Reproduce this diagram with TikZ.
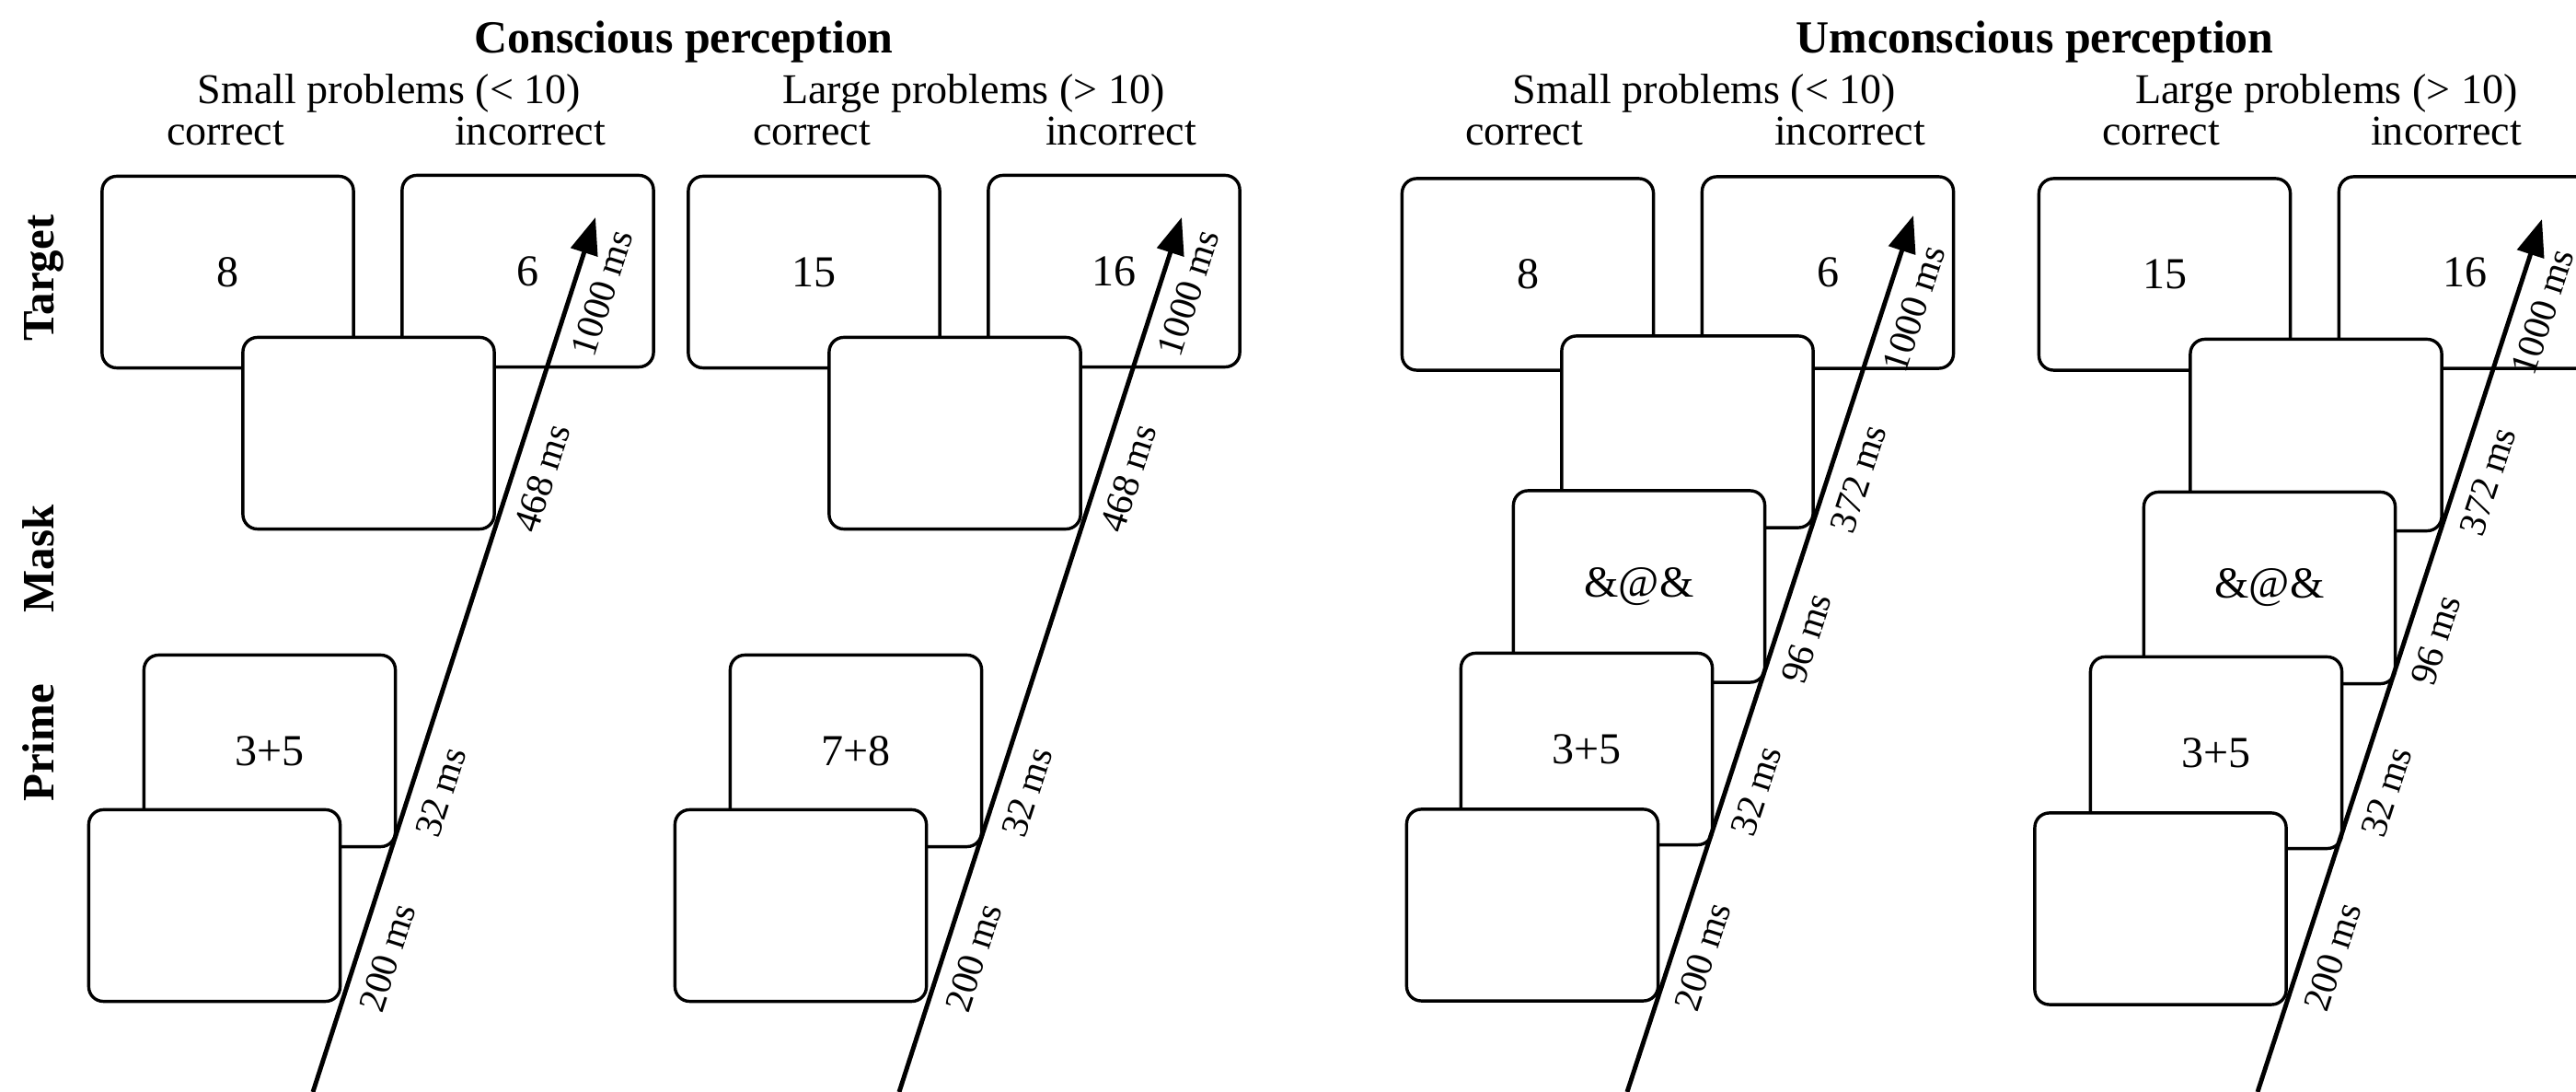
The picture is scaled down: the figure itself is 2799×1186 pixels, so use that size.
\documentclass[tikz,border=0pt]{standalone}
\usepackage{fontspec}
\setmainfont{Liberation Serif}
\usetikzlibrary{arrows.meta}
\begin{document}
\begin{tikzpicture}[x=0.01cm,y=-0.01cm,
  screen/.style={draw, line width=0.97pt, rounded corners=4.5pt, fill=white,
    minimum width=2.73cm, minimum height=2.08cm, inner sep=0pt,
    font=\fontsize{13.66}{16}\selectfont},
  head/.style={font=\fontsize{13.1}{15}\selectfont, anchor=base, inner sep=0pt},
  bigtitle/.style={font=\fontsize{14.2}{17}\selectfont\bfseries, anchor=base, inner sep=0pt},
  rowlab/.style={font=\fontsize{13.9}{16}\selectfont\bfseries, rotate=90, anchor=base, inner sep=0pt},
  timeline/.style={line width=1.4pt, -{Triangle[length=11.4pt,width=8.5pt]}},
  tlab/.style={sloped, anchor=north, inner sep=4.5pt, font=\fontsize{11.7}{14}\selectfont}
]
\useasboundingbox (0,0) rectangle (2799,1186);
\clip (0,0) rectangle (2799,1186);

% ---------- headings ----------
\node[bigtitle] (t1) at (743,58) {Conscious perception};
\node[head] (h1) at (423,113) {Small problems (< 10)};
\node[head] (h1c) at (245,158) {correct};
\node[head] (h1i) at (576,158) {incorrect};
\node[head] (h2) at (1058,113) {Large problems (> 10)};
\node[head] (h2c) at (882,158) {correct};
\node[head] (h2i) at (1218,158) {incorrect};

\node[bigtitle] (t2) at (2211,58) {Umconscious perception};
\node[head] (h3) at (1852,113) {Small problems (< 10)};
\node[head] (h3c) at (1656,158) {correct};
\node[head] (h3i) at (2010,158) {incorrect};
\node[head] (h4) at (2528,113) {Large problems (> 10)};
\node[head] (h4c) at (2348,158) {correct};
\node[head] (h4i) at (2658,158) {incorrect};

% ---------- row labels ----------
\node[rowlab] (rt) at (58,302) {Target};
\node[rowlab] (rm) at (58,607) {Mask};
\node[rowlab] (rp) at (58,807) {Prime};

% ---------- panel 1 ----------
\node[screen] (c1tc) at (247.5,295.5) {8};
\node[screen] (c1ti) at (573.5,294.5) {6};
\node[screen] (c1mk) at (400.5,470.5) {};
\node[screen] (c1pr) at (293,815.5) {3+5};
\node[screen] (c1bl) at (233,983.5) {};
\coordinate (c1s) at (340,1186);
\coordinate (c1e) at (647,236);
\draw[timeline] (c1s) -- (c1e)
  node[tlab,pos=0.164] {200 ms}
  node[tlab,pos=0.353] {32 ms}
  node[tlab,pos=0.712] {468 ms}
  node[tlab,pos=0.924] {1000 ms};

% ---------- panel 2 ----------
\node[screen] (c2tc) at (884.5,295.5) {15};
\node[screen] (c2ti) at (1210.5,294.5) {16};
\node[screen] (c2mk) at (1037.5,470.5) {};
\node[screen] (c2pr) at (930,815.5) {7+8};
\node[screen] (c2bl) at (870,983.5) {};
\coordinate (c2s) at (977,1186);
\coordinate (c2e) at (1284,236);
\draw[timeline] (c2s) -- (c2e)
  node[tlab,pos=0.164] {200 ms}
  node[tlab,pos=0.353] {32 ms}
  node[tlab,pos=0.712] {468 ms}
  node[tlab,pos=0.924] {1000 ms};

% ---------- panel 3 ----------
\node[screen] (u1tc) at (1660,298) {8};
\node[screen] (u1ti) at (1986,296) {6};
\node[screen] (u1mk) at (1833.5,469) {};
\node[screen] (u1at) at (1781,637) {\&@\&};
\node[screen] (u1pr) at (1724,813.5) {3+5};
\node[screen] (u1bl) at (1665,983) {};
\coordinate (u1s) at (1768,1186);
\coordinate (u1e) at (2079,234);
\draw[timeline] (u1s) -- (u1e)
  node[tlab,pos=0.165] {200 ms}
  node[tlab,pos=0.354] {32 ms}
  node[tlab,pos=0.528] {96 ms}
  node[tlab,pos=0.71] {372 ms}
  node[tlab,pos=0.904] {1000 ms};

% ---------- panel 4 ----------
\node[screen] (u2tc) at (2352,298) {15};
\node[screen] (u2ti) at (2678,296) {16};
\node[screen] (u2mk) at (2516.5,472.5) {};
\node[screen] (u2at) at (2466,638.5) {\&@\&};
\node[screen] (u2pr) at (2408,817.5) {3+5};
\node[screen] (u2bl) at (2347.5,987) {};
\coordinate (u2s) at (2453,1186);
\coordinate (u2e) at (2762,238);
\draw[timeline] (u2s) -- (u2e)
  node[tlab,pos=0.165] {200 ms}
  node[tlab,pos=0.354] {32 ms}
  node[tlab,pos=0.528] {96 ms}
  node[tlab,pos=0.71] {372 ms}
  node[tlab,pos=0.904] {1000 ms};
\end{tikzpicture}
\end{document}
